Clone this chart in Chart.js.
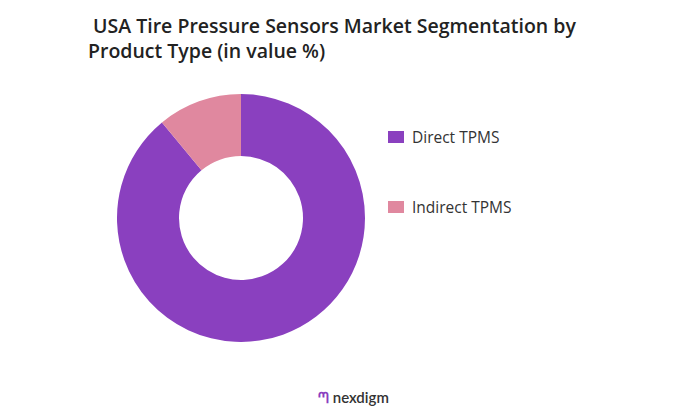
<!DOCTYPE html>
<html><head><meta charset="utf-8">
<script src="https://cdn.jsdelivr.net/npm/chart.js"></script>
<style>
body{margin:0;width:694px;height:418px;background:#fff;font-family:"Open Sans",sans-serif;position:relative;overflow:hidden}
#title{position:absolute;left:88px;top:13px;font-size:19.5px;font-weight:600;color:#222;line-height:25px}
#wrap{position:absolute;left:117px;top:94px;width:248px;height:248px}
.leg{position:absolute;left:388px;font-size:15.5px;color:#333;display:flex;align-items:center}
.sw{width:16px;height:12px;margin-right:8px;display:inline-block}
#logo{position:absolute;left:318px;top:388px;font-size:15px;font-weight:600;color:#333;font-family:"Lato",sans-serif}
</style></head><body>
<div id="title">&nbsp;USA Tire Pressure Sensors Market Segmentation by<br>Product Type (in value %)</div>
<div id="wrap"><canvas id="c"></canvas></div>
<div id="legend"></div>
<div id="logo"><span style="color:#8a3fbf">ᘉ</span> nexdigm</div>
<script>
const categories=["Direct TPMS","Indirect TPMS"];
const values=[89,11];
const colors=["#8a40bf","#e0889f"];
const legendTops=[126,196];
categories.forEach((c,i)=>{const d=document.createElement('div');d.className='leg';d.style.top=legendTops[i]+'px';d.innerHTML='<span class="sw" style="background:'+colors[i]+'"></span>'+c;document.body.appendChild(d);});
new Chart(document.getElementById('c'),{type:'doughnut',data:{labels:categories,datasets:[{data:values,backgroundColor:colors,borderWidth:0}]},
options:{responsive:true,maintainAspectRatio:false,animation:false,cutout:'50%',layout:{padding:0},plugins:{legend:{display:false},tooltip:{enabled:false}}}});
</script></body></html>
